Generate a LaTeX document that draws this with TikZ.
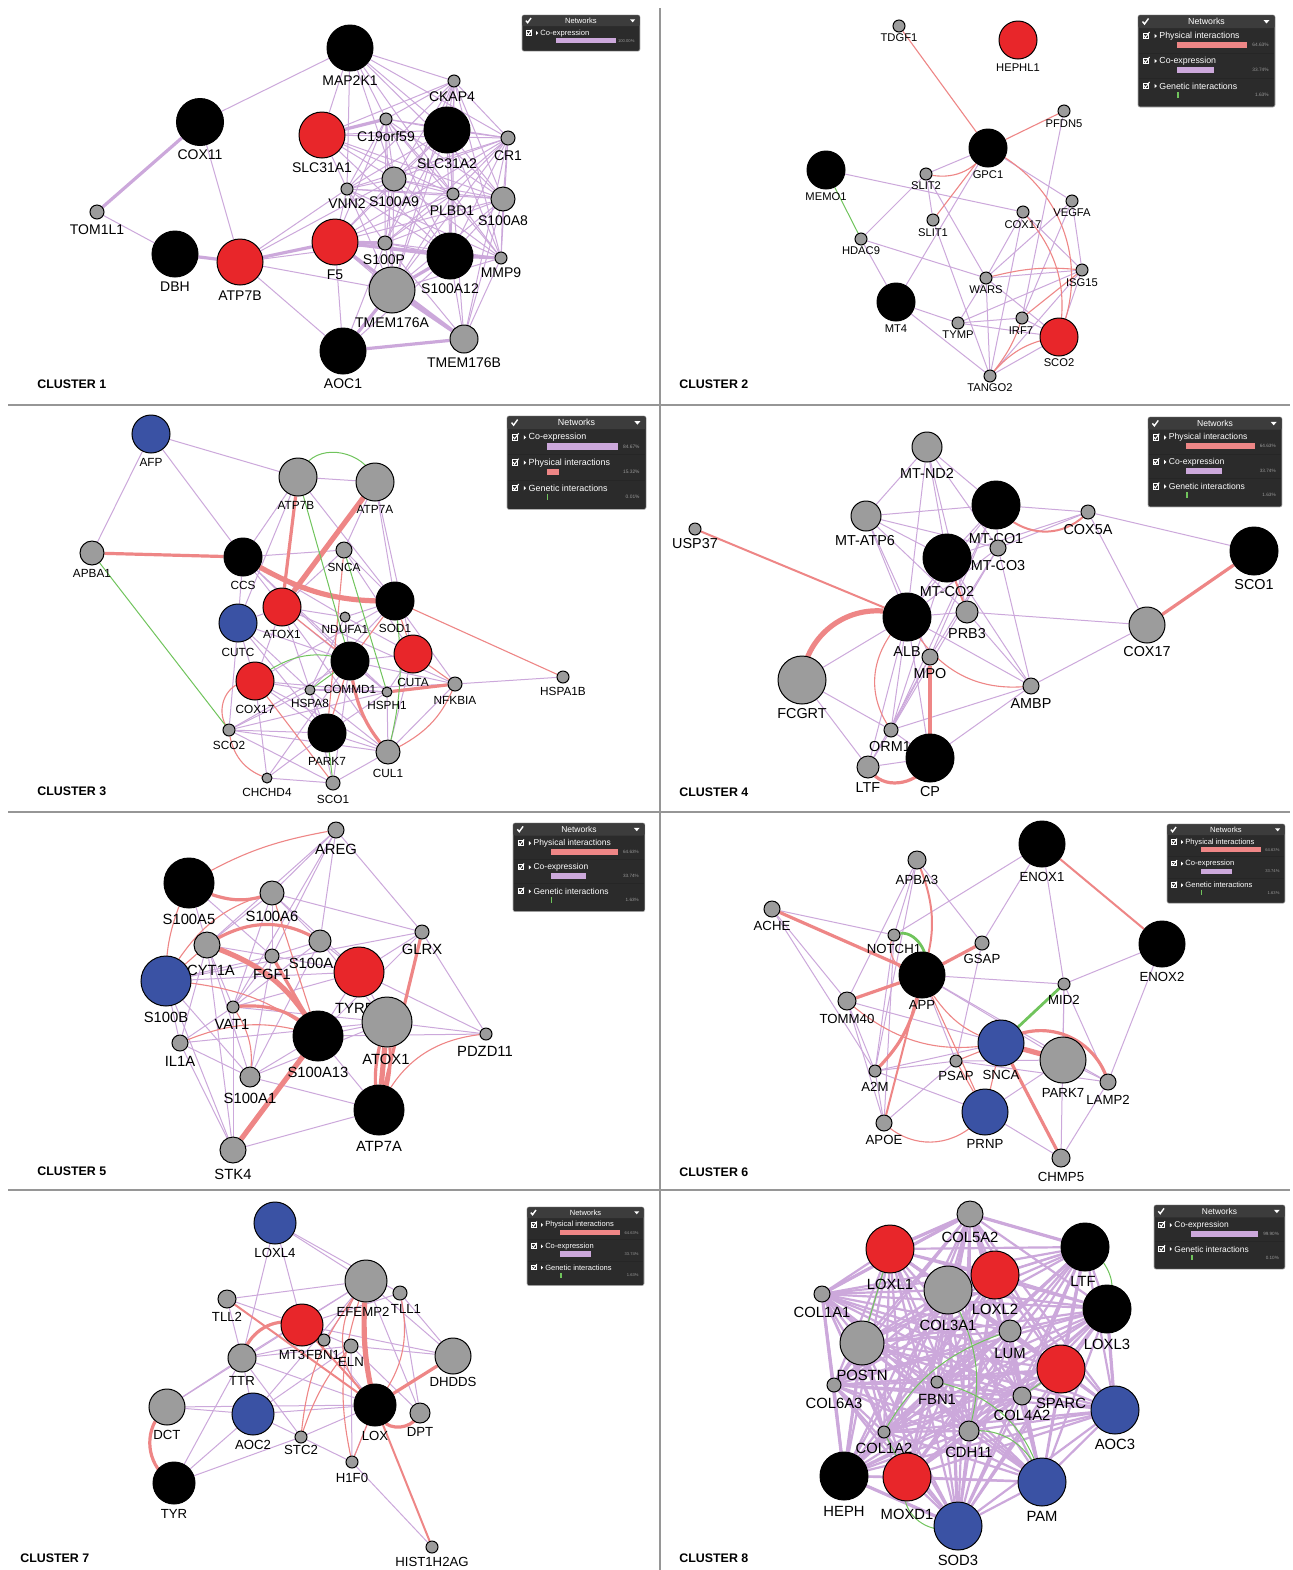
\documentclass[tikz,border=0pt]{standalone}
\usepackage{fontspec}
\setmainfont{Liberation Sans}

\definecolor{coexp}{RGB}{204,168,219}
\definecolor{phys}{RGB}{238,134,134}
\definecolor{genet}{RGB}{112,196,92}
\definecolor{nred}{RGB}{232,38,42}
\definecolor{nblue}{RGB}{58,82,164}
\definecolor{ngrey}{RGB}{156,156,156}
\definecolor{legbg}{RGB}{43,43,43}
\definecolor{leghead}{RGB}{60,60,60}
\definecolor{divcol}{RGB}{150,150,150}

\pgfdeclarelayer{back}
\pgfdeclarelayer{edges}
\pgfsetlayers{back,edges,main}

\tikzset{
  gn/.style={circle, draw=black, line width=0.5pt, inner sep=0pt},
  lab/.style={inner sep=0pt},
  labsize/.style={lab/.style={inner sep=0pt, font=\fontsize{#1}{#1}\selectfont}},
  co/.style={draw=coexp, line width=0.5pt},
  coM/.style={draw=coexp, line width=1.1pt},
  coT/.style={draw=coexp, line width=1.6pt},
  ph/.style={draw=phys, line width=0.55pt},
  phM/.style={draw=phys, line width=1pt},
  phT/.style={draw=phys, line width=1.6pt},
  phTT/.style={draw=phys, line width=2.6pt},
  ge/.style={draw=genet, line width=0.5pt},
  geT/.style={draw=genet, line width=1.4pt},
  legtxt/.style={text=white, inner sep=0pt, font=\fontsize{4.4}{5}\selectfont},
  legpct/.style={text=gray!80, inner sep=0pt, font=\fontsize{2.4}{3}\selectfont},
  clus/.style={anchor=west, inner sep=0pt, font=\fontsize{6.2}{7}\selectfont\bfseries},
}

% gene node: name, position, diameter (px), fill, label position, label
\newcommand\gene[6]{%
  \node[gn, minimum size={#3*0.5pt}, fill=#4] (#1) at (#2) {};
  \node[lab] (#1l) at (#5) {#6};}
% straight links
\newcommand\links[2]{\foreach \a/\b in {#2} \draw[#1] (\a) -- (\b);}
% every pair of a list
\newcommand\mesh[2]{%
  \foreach \a [count=\i] in {#2}{\foreach \b [count=\j] in {#2}{%
    \ifnum\j>\i \draw[#1] (\a) -- (\b);\fi}}}
% networks panel: name, top left, scale, rows, rows list
\newcommand\netbox[5]{%
  \begin{scope}[shift={(#2)}, scale=#3, transform shape]
    \fill[legbg, draw=gray!60, line width=0.3pt, rounded corners=1pt] (0,0) rectangle (137,{17+25*#4});
    \fill[leghead, rounded corners=1pt] (0.3,0.3) rectangle (136.7,13);
    \draw[white, line width=0.7pt] (4.5,6.5) -- (6.5,9) -- (10.5,3.5);
    \fill[white] (125.5,5) -- (131.5,5) -- (128.5,8.5) -- cycle;
    \node[legtxt] (#1h) at (68.5,6.5) {Networks};
    \foreach \entxt/\encol/\enwid/\enpct [count=\i from 0] in {#5}{
      \pgfmathsetmacro\yy{13+25*\i}
      \ifnum\i>0 \draw[gray!30!black, line width=0.3pt] (1,\yy) -- (136,\yy);\fi
      \draw[white, line width=0.3pt] (5,\yy+5) rectangle ++(5.5,5.5);
      \draw[white, line width=0.5pt] (6,\yy+7.5) -- (7.5,\yy+9.5) -- (11.5,\yy+4);
      \fill[white] (16.5,\yy+5.8) -- (18.8,\yy+8) -- (16.5,\yy+10.2) -- cycle;
      \node[legtxt, anchor=west] (#1t\i) at (21,\yy+8) {\entxt};
      \fill[\encol] (39,\yy+14) rectangle ++(\enwid,6);
      \node[legpct, anchor=east] (#1p\i) at (131,\yy+17) {\enpct};
    }
  \end{scope}}

\begin{document}
\begin{tikzpicture}[x=0.5pt, y=-0.5pt]
\useasboundingbox (0,0) rectangle (1293,1570);
\begin{pgfonlayer}{back}
  \fill[white] (0,0) rectangle (1293,1570);
  \draw[divcol, line width=1pt] (660,8) -- (660,1570);
  \foreach \yy in {405,812,1190} \draw[divcol, line width=1pt] (8,\yy) -- (1290,\yy);
\end{pgfonlayer}

% Cluster 1
\begin{scope}[name prefix=c1-, labsize=7]
  \gene{map}{350,48}{46}{black}{350,81}{MAP2K1}
  \gene{cox}{200,122}{47}{black}{200,155}{COX11}
  \gene{slca}{322,135}{46}{nred}{322,168}{SLC31A1}
  \gene{c19}{386,119}{12}{ngrey}{386,136}{C19orf59}
  \gene{ckap}{454,81}{12}{ngrey}{452,97}{CKAP4}
  \gene{slcb}{447,130}{46}{black}{447,164}{SLC31A2}
  \gene{cr}{508,138}{14}{ngrey}{508,156}{CR1}
  \gene{a9}{394,179}{24}{ngrey}{394,202}{S100A9}
  \gene{vnn}{347,189}{12}{ngrey}{347,204}{VNN2}
  \gene{plbd}{453,194}{12}{ngrey}{452,211}{PLBD1}
  \gene{a8}{503,199}{24}{ngrey}{503,221}{S100A8}
  \gene{tom}{97,212}{14}{ngrey}{97,230}{TOM1L1}
  \gene{dbh}{175,254}{46}{black}{175,287}{DBH}
  \gene{atp}{240,262}{46}{nred}{240,296}{ATP7B}
  \gene{f5}{335,242}{46}{nred}{335,275}{F5}
  \gene{p}{385,243}{14}{ngrey}{384,260}{S100P}
  \gene{a12}{450,256}{46}{black}{450,289}{S100A12}
  \gene{mmp}{501,258}{12}{ngrey}{501,273}{MMP9}
  \gene{tma}{392,290}{46}{ngrey}{392,323}{TMEM176A}
  \gene{aoc}{343,351}{46}{black}{343,384}{AOC1}
  \gene{tmb}{464,339}{28}{ngrey}{464,363}{TMEM176B}
  \begin{pgfonlayer}{edges}
    \mesh{co}{ckap,c19,slcb,cr,a9,vnn,plbd,a8,p,a12,mmp,tma}
    \links{co}{cox/map, cox/atp, tom/dbh, atp/vnn, atp/p, atp/tma, atp/aoc, atp/a9, f5/vnn, f5/a9, f5/plbd,
      f5/tma, f5/mmp, f5/a8, f5/cr, f5/slcb, f5/aoc, f5/c19, tmb/a12, tmb/mmp, tmb/a8, tmb/cr, tmb/p, tmb/plbd,
      aoc/p, aoc/a12, map/slca, map/ckap, map/slcb, map/cr, map/c19, map/a9, map/plbd, map/vnn, map/a8,
      slca/a9, slca/vnn, slca/plbd, slca/a8, slca/slcb, slca/cr, slca/a12, slca/ckap}
    \links{coT}{cox/tom, dbh/atp, atp/f5, f5/p, f5/a12, f5/tmb, tmb/tma, aoc/tma, aoc/tmb, slca/c19, a12/tma, a12/mmp}
  \end{pgfonlayer}
  \node[clus] (title) at (37,384) {CLUSTER 1};
\end{scope}

% Cluster 2
\begin{scope}[name prefix=c2-, labsize=5.6]
  \gene{tdgf}{899,26}{12}{ngrey}{899,38}{TDGF1}
  \gene{heph}{1018,40}{38}{nred}{1018,68}{HEPHL1}
  \gene{pfdn}{1064,111}{12}{ngrey}{1064,124}{PFDN5}
  \gene{gpc}{988,148}{38}{black}{988,175}{GPC1}
  \gene{memo}{826,170}{38}{black}{826,197}{MEMO1}
  \gene{slit2}{926,174}{12}{ngrey}{926,186}{SLIT2}
  \gene{vegfa}{1072,201}{12}{ngrey}{1072,213}{VEGFA}
  \gene{cox}{1023,212}{12}{ngrey}{1023,225}{COX17}
  \gene{slit1}{933,220}{12}{ngrey}{933,233}{SLIT1}
  \gene{hdac}{861,239}{12}{ngrey}{861,251}{HDAC9}
  \gene{wars}{986,278}{12}{ngrey}{986,290}{WARS}
  \gene{isg}{1082,270}{12}{ngrey}{1082,283}{ISG15}
  \gene{mt4}{896,302}{38}{black}{896,329}{MT4}
  \gene{tymp}{958,323}{12}{ngrey}{958,335}{TYMP}
  \gene{irf}{1022,318}{12}{ngrey}{1021,331}{IRF7}
  \gene{sco}{1059,337}{38}{nred}{1059,363}{SCO2}
  \gene{tango}{990,376}{12}{ngrey}{990,388}{TANGO2}
  \begin{pgfonlayer}{edges}
    \links{co}{gpc/slit2, gpc/mt4, gpc/vegfa, memo/cox, slit2/hdac, slit2/slit1, slit2/wars, slit1/tango,
      hdac/mt4, hdac/wars, pfdn/irf, vegfa/isg, vegfa/wars, vegfa/irf, cox/wars, cox/isg, cox/tango,
      wars/isg, wars/tymp, wars/sco, wars/tango, isg/tymp, isg/sco, isg/tango, mt4/tymp, mt4/tango,
      tymp/irf, tymp/sco, irf/sco, sco/tango}
    \links{ph}{tdgf/gpc, gpc/pfdn, gpc/slit1, isg/irf}
    \draw[ph, bend right=35] (slit2) to (gpc);
    \draw[ph, bend left=40] (gpc) to (sco);
    \draw[ph, bend left=25] (cox) to (sco);
    \draw[ph, bend left=10] (wars) to (isg);
    \draw[ph, bend left=20] (tango) to (sco);
    \draw[ph, bend right=10] (tango) to (irf);
    \links{ge}{memo/hdac}
  \end{pgfonlayer}
  \node[clus] (title) at (679,384) {CLUSTER 2};
\end{scope}

% Cluster 3
\begin{scope}[name prefix=c3-, labsize=5.9]
  \gene{afp}{151,434}{38}{nblue}{151,462}{AFP}
  \gene{atpb}{298,477}{38}{ngrey}{296,505}{ATP7B}
  \gene{atpa}{375,482}{38}{ngrey}{375,509}{ATP7A}
  \gene{apba}{92,553}{24}{ngrey}{92,573}{APBA1}
  \gene{ccs}{243,557}{38}{black}{243,585}{CCS}
  \gene{snca}{344,550}{16}{ngrey}{344,567}{SNCA}
  \gene{atox}{282,607}{38}{nred}{282,634}{ATOX1}
  \gene{sod}{395,601}{38}{black}{395,628}{SOD1}
  \gene{ndufa}{345,617}{10}{ngrey}{345,629}{NDUFA1}
  \gene{cutc}{238,623}{38}{nblue}{238,652}{CUTC}
  \gene{commd}{350,661}{38}{black}{350,689}{COMMD1}
  \gene{cuta}{413,654}{38}{nred}{413,682}{CUTA}
  \gene{cox}{255,681}{38}{nred}{255,709}{COX17}
  \gene{hspa8}{310,690}{10}{ngrey}{310,703}{HSPA8}
  \gene{hsph}{387,692}{10}{ngrey}{387,705}{HSPH1}
  \gene{nfkbia}{455,684}{14}{ngrey}{455,700}{NFKBIA}
  \gene{hspa1b}{563,677}{12}{ngrey}{563,691}{HSPA1B}
  \gene{sco2}{229,730}{12}{ngrey}{229,745}{SCO2}
  \gene{park}{327,733}{38}{black}{327,761}{PARK7}
  \gene{cul}{388,752}{24}{ngrey}{388,773}{CUL1}
  \gene{chchd}{267,778}{10}{ngrey}{267,792}{CHCHD4}
  \gene{sco1}{333,783}{14}{ngrey}{333,799}{SCO1}
  \begin{pgfonlayer}{edges}
    \links{co}{afp/atpb, afp/apba, afp/ccs, atpb/atpa, atpb/ccs, atpb/sod, atpb/cutc, atpa/snca, atpa/sod, atpa/cuta,
      ccs/snca, ccs/cutc, ccs/ndufa, ccs/commd, ccs/hsph, ccs/atox, snca/sod, snca/atox, snca/cuta,
      atox/cutc, atox/ndufa, atox/hsph, atox/hspa8, atox/nfkbia, atox/cul, atox/cox, sod/ndufa, sod/nfkbia,
      sod/hspa8, sod/cox, ndufa/commd, ndufa/cuta, ndufa/hspa8, cutc/cox, cutc/hspa8, cutc/park, cutc/sco2,
      cutc/commd, commd/cuta, commd/hsph, commd/nfkbia, commd/sco2, commd/chchd, cuta/hsph, cuta/cul,
      cox/hspa8, cox/park, cox/chchd, cox/cul, cox/hsph, hspa8/park, hspa8/sco2, hspa8/hsph, hsph/park,
      hsph/cul, nfkbia/cul, nfkbia/hspa1b, nfkbia/hspa8, sco2/park, sco2/sco1, sco2/cul, sco2/hsph,
      park/cul, park/chchd, chchd/sco1, sco1/cul, sco1/hspa8, sco1/commd, cul/hspa8}
    \links{ph}{sod/hspa1b, snca/park, sod/cuta, cuta/nfkbia, cox/sco1, atox/commd, commd/park, sod/commd}
    \links{phT}{apba/ccs, atpb/atox, hsph/nfkbia}
    \links{phTT}{atpa/atox}
    \draw[phTT, bend right=15] (ccs) to (sod);
    \draw[phT, bend right=15] (commd) to (cul);
    \draw[ph, bend right=50] (cox) to (sco2);
    \draw[ph, bend right=30] (sco2) to (chchd);
    \draw[ph, bend right=20] (cul) to (nfkbia);
    \links{ge}{apba/sco2, atpb/commd, snca/hsph, park/sco1, hspa8/commd}
    \draw[ge, bend left=60] (atpb) to (atpa);
    \draw[ge, bend left=10] (sod) to (cul);
    \draw[ge, bend left=25] (cox) to (commd);
  \end{pgfonlayer}
  \node[clus] (title) at (37,791) {CLUSTER 3};
\end{scope}

% Cluster 4
\begin{scope}[name prefix=c4-, labsize=7.2]
  \gene{nd2}{927,447}{30}{ngrey}{927,473}{MT-ND2}
  \gene{atp6}{866,516}{30}{ngrey}{865,541}{MT-ATP6}
  \gene{usp}{695,529}{12}{ngrey}{695,544}{USP37}
  \gene{co1}{996,505}{48}{black}{996,539}{MT-CO1}
  \gene{cox5a}{1088,512}{14}{ngrey}{1088,530}{COX5A}
  \gene{co3}{998,548}{16}{ngrey}{998,566}{MT-CO3}
  \gene{co2}{947,558}{48}{black}{947,592}{MT-CO2}
  \gene{sco1}{1254,551}{48}{black}{1254,585}{SCO1}
  \gene{alb}{907,617}{48}{black}{907,652}{ALB}
  \gene{prb3}{967,612}{22}{ngrey}{967,634}{PRB3}
  \gene{cox17}{1147,625}{36}{ngrey}{1147,652}{COX17}
  \gene{mpo}{930,657}{16}{ngrey}{930,674}{MPO}
  \gene{fcgrt}{802,680}{48}{ngrey}{802,714}{FCGRT}
  \gene{ambp}{1031,686}{16}{ngrey}{1031,704}{AMBP}
  \gene{orm1}{891,730}{14}{ngrey}{890,747}{ORM1}
  \gene{cp}{930,758}{48}{black}{930,792}{CP}
  \gene{ltf}{868,767}{22}{ngrey}{868,788}{LTF}
  \begin{pgfonlayer}{edges}
    \links{co}{nd2/atp6, nd2/co1, nd2/co2, nd2/co3, nd2/alb, nd2/prb3, atp6/co1, atp6/co2, atp6/co3, atp6/alb,
      atp6/prb3, atp6/mpo, co1/cox5a, co1/co3, co1/alb, co1/mpo, co1/orm1, co1/co2, cox5a/sco1, cox5a/cox17,
      cox5a/co2, cox5a/co3, co3/ambp, co3/mpo, co3/orm1, co3/alb, co2/ambp, co2/alb, co2/orm1, prb3/cox17,
      prb3/ambp, alb/prb3, alb/fcgrt, alb/orm1, alb/ltf, alb/cp, alb/ambp, fcgrt/orm1, fcgrt/ltf,
      cox17/ambp, ambp/orm1, ambp/cp, orm1/mpo, orm1/cp, ltf/cp, ltf/orm1, mpo/ltf}
    \links{phM}{usp/alb, co2/prb3}
    \links{phT}{sco1/cox17, mpo/cp}
    \draw[phTT, bend right=45] (alb) to (fcgrt);
    \draw[phM, bend right=40] (co1) to (cox5a);
    \draw[ph, bend right=30] (alb) to (ambp);
    \draw[ph, bend right=35] (alb) to (orm1);
    \draw[phT, bend right=60] (ltf) to (cp);
  \end{pgfonlayer}
  \node[clus] (title) at (679,792) {CLUSTER 4};
\end{scope}

% Cluster 5
\begin{scope}[name prefix=c5-, labsize=7.4]
  \gene{areg}{336,830}{16}{ngrey}{336,849}{AREG}
  \gene{a5}{189,883}{50}{black}{189,919}{S100A5}
  \gene{a6}{272,893}{24}{ngrey}{272,916}{S100A6}
  \gene{glrx}{422,932}{14}{ngrey}{422,949}{GLRX}
  \gene{cyt}{207,945}{26}{ngrey}{211,970}{CYT1A}
  \gene{a4}{320,941}{22}{ngrey}{311,963}{S100A}
  \gene{fgf}{272,956}{14}{ngrey}{272,974}{FGF1}
  \gene{tyrp}{359,972}{50}{nred}{359,1008}{TYRP1}
  \gene{b}{166,981}{50}{nblue}{166,1017}{S100B}
  \gene{vat}{233,1007}{12}{ngrey}{232,1024}{VAT1}
  \gene{atox}{387,1022}{50}{ngrey}{386,1059}{ATOX1}
  \gene{a13}{318,1036}{50}{black}{318,1072}{S100A13}
  \gene{il1a}{180,1043}{16}{ngrey}{180,1061}{IL1A}
  \gene{pdzd}{486,1034}{12}{ngrey}{485,1051}{PDZD11}
  \gene{a1}{250,1077}{20}{ngrey}{250,1098}{S100A1}
  \gene{atp7a}{379,1110}{50}{black}{379,1146}{ATP7A}
  \gene{stk}{233,1150}{26}{ngrey}{233,1174}{STK4}
  \begin{pgfonlayer}{edges}
    \links{co}{areg/a6, areg/a4, areg/fgf, areg/glrx, areg/cyt, areg/vat, a5/cyt, a5/fgf, a6/glrx, a6/cyt,
      a6/a4, a6/fgf, a6/tyrp, a6/vat, glrx/a13, glrx/tyrp, glrx/pdzd, glrx/b, cyt/fgf, cyt/vat, cyt/a1,
      cyt/stk, cyt/il1a, a4/fgf, a4/tyrp, a4/a1, a4/vat, a4/atox, fgf/tyrp, fgf/vat, fgf/a1, fgf/b,
      tyrp/a13, tyrp/atox, tyrp/b, tyrp/pdzd, tyrp/vat, b/il1a, b/a1, b/stk, vat/il1a, vat/atox,
      vat/stk, atox/a13, atox/pdzd, atox/il1a, a13/a1, a13/pdzd, a13/atp7a, il1a/a1, il1a/stk,
      a1/atox, stk/atp7a, atp7a/a1}
    \links{ph}{a6/a13, b/cyt}
    \links{phT}{glrx/atp7a, fgf/a13}
    \links{phTT}{stk/a13, atox/atp7a}
    \draw[ph, bend right=10] (areg) to (a5);
    \draw[phT, bend right=20] (a5) to (a6);
    \draw[ph, bend left=20] (b) to (a6);
    \draw[ph, bend right=10] (a5) to (b);
    \draw[phT, bend left=30] (cyt) to (a4);
    \draw[phTT, bend left=20] (cyt) to (a13);
    \draw[ph, bend left=15] (b) to (a13);
    \draw[phT, bend left=25] (vat) to (a13);
    \draw[ph, bend left=20] (vat) to (a1);
    \draw[ph, bend left=20] (il1a) to (a13);
    \draw[phT, bend left=12] (atox) to (atp7a);
    \draw[phT, bend right=12] (atox) to (atp7a);
    \draw[ph, bend right=30] (pdzd) to (atp7a);
  \end{pgfonlayer}
  \node[clus] (title) at (37,1171) {CLUSTER 5};
\end{scope}

% Cluster 6
\begin{scope}[name prefix=c6-, labsize=6.6]
  \gene{enox1}{1042,844}{46}{black}{1042,877}{ENOX1}
  \gene{apba3}{917,860}{18}{ngrey}{917,880}{APBA3}
  \gene{ache}{772,909}{16}{ngrey}{772,926}{ACHE}
  \gene{notch}{894,935}{12}{ngrey}{894,949}{NOTCH1}
  \gene{gsap}{982,943}{14}{ngrey}{982,959}{GSAP}
  \gene{enox2}{1162,944}{46}{black}{1162,977}{ENOX2}
  \gene{app}{922,975}{46}{black}{922,1005}{APP}
  \gene{mid2}{1064,984}{12}{ngrey}{1064,1000}{MID2}
  \gene{tomm}{847,1001}{18}{ngrey}{847,1019}{TOMM40}
  \gene{snca}{1001,1043}{46}{nblue}{1001,1075}{SNCA}
  \gene{park}{1063,1060}{46}{ngrey}{1063,1093}{PARK7}
  \gene{psap}{956,1061}{12}{ngrey}{956,1076}{PSAP}
  \gene{a2m}{875,1071}{12}{ngrey}{875,1087}{A2M}
  \gene{lamp}{1108,1082}{16}{ngrey}{1108,1100}{LAMP2}
  \gene{prnp}{985,1112}{46}{nblue}{985,1144}{PRNP}
  \gene{apoe}{884,1123}{16}{ngrey}{884,1140}{APOE}
  \gene{chmp}{1061,1158}{18}{ngrey}{1061,1177}{CHMP5}
  \begin{pgfonlayer}{edges}
    \links{co}{enox1/gsap, enox1/notch, enox1/mid2, enox2/mid2, enox2/lamp, ache/notch, ache/a2m, ache/tomm,
      apba3/gsap, apba3/a2m, apba3/tomm, apba3/notch, gsap/psap, app/mid2, app/psap, app/park, app/lamp,
      tomm/park, tomm/a2m, tomm/apoe, mid2/park, mid2/chmp, mid2/lamp, snca/a2m, park/lamp, park/prnp,
      park/psap, lamp/chmp, lamp/psap, prnp/a2m, prnp/chmp, a2m/apoe, a2m/psap, apoe/psap, notch/a2m, notch/apoe}
    \links{ph}{snca/prnp, snca/psap, psap/prnp, app/prnp}
    \links{phM}{enox1/enox2, app/apoe}
    \links{phT}{ache/app, gsap/app, app/tomm, snca/chmp}
    \links{phTT}{snca/park}
    \draw[phM, bend left=20] (apba3) to (app);
    \draw[phT, bend left=15] (app) to (a2m);
    \draw[ph, bend right=20] (app) to (snca);
    \draw[ph, bend right=60] (notch) to (app);
    \draw[ph, bend right=25] (tomm) to (snca);
    \draw[phT, bend left=45] (snca) to (lamp);
    \draw[ph, bend left=40] (prnp) to (apoe);
    \draw[geT, bend left=70] (notch) to (app);
    \links{geT}{mid2/snca}
  \end{pgfonlayer}
  \node[clus] (title) at (679,1172) {CLUSTER 6};
\end{scope}

% Cluster 7
\begin{scope}[name prefix=c7-, labsize=6.6]
  \gene{loxl4}{275,1223}{42}{nblue}{275,1253}{LOXL4}
  \gene{efemp}{366,1281}{42}{ngrey}{363,1312}{EFEMP2}
  \gene{tll1}{400,1293}{14}{ngrey}{406,1309}{TLL1}
  \gene{tll2}{227,1299}{18}{ngrey}{227,1317}{TLL2}
  \gene{mt3}{302,1325}{42}{nred}{292,1355}{MT3}
  \gene{fbn}{324,1340}{12}{ngrey}{323,1355}{FBN1}
  \gene{eln}{351,1346}{14}{ngrey}{351,1362}{ELN}
  \gene{ttr}{242,1358}{28}{ngrey}{242,1381}{TTR}
  \gene{dhdds}{453,1356}{36}{ngrey}{453,1382}{DHDDS}
  \gene{dct}{167,1407}{36}{ngrey}{167,1435}{DCT}
  \gene{aoc2}{253,1414}{42}{nblue}{253,1445}{AOC2}
  \gene{lox}{375,1405}{42}{black}{375,1436}{LOX}
  \gene{dpt}{420,1413}{20}{ngrey}{420,1432}{DPT}
  \gene{stc}{301,1437}{12}{ngrey}{301,1450}{STC2}
  \gene{h1f0}{352,1462}{12}{ngrey}{352,1478}{H1F0}
  \gene{tyr}{174,1483}{42}{black}{174,1514}{TYR}
  \gene{hist}{432,1547}{12}{ngrey}{432,1562}{HIST1H2AG}
  \begin{pgfonlayer}{edges}
    \links{co}{loxl4/mt3, loxl4/ttr, loxl4/efemp, loxl4/tll1, tll2/efemp, tll2/ttr, tll2/mt3, ttr/dct, ttr/aoc2,
      ttr/tyr, ttr/eln, ttr/efemp, ttr/stc, ttr/lox, dct/aoc2, dct/lox, aoc2/stc, aoc2/tyr, aoc2/efemp,
      aoc2/lox, aoc2/eln, tyr/stc, stc/h1f0, stc/lox, h1f0/hist, h1f0/lox, h1f0/eln, eln/dpt, eln/dhdds,
      efemp/dhdds, tll1/dpt, tll1/dhdds, tll1/mt3, fbn/lox, fbn/efemp, fbn/ttr, mt3/eln, mt3/dhdds,
      efemp/dpt, dct/efemp}
    \links{ph}{lox/h1f0}
    \links{phM}{tll2/lox, lox/hist, mt3/lox}
    \links{phT}{dhdds/lox}
    \draw[phT, bend right=45] (dct) to (tyr);
    \draw[phT, bend left=40] (ttr) to (mt3);
    \draw[phTT, bend right=8] (efemp) to (lox);
    \draw[ph, bend right=40] (efemp) to (lox);
    \draw[ph, bend right=15] (efemp) to (stc);
    \draw[ph, bend left=25] (tll1) to (lox);
    \draw[phT, bend right=50] (lox) to (dpt);
    \draw[ph, bend left=10] (stc) to (eln);
    \draw[ph, bend right=15] (efemp) to (h1f0);
  \end{pgfonlayer}
  \node[clus] (title) at (20,1558) {CLUSTER 7};
\end{scope}

% Cluster 8
\begin{scope}[name prefix=c8-, labsize=7.4]
  \gene{col5a2}{970,1214}{26}{ngrey}{970,1237}{COL5A2}
  \gene{loxl1}{890,1249}{48}{nred}{890,1284}{LOXL1}
  \gene{ltf}{1085,1247}{48}{black}{1083,1281}{LTF}
  \gene{col3a1}{948,1290}{48}{ngrey}{948,1325}{COL3A1}
  \gene{loxl2}{995,1275}{48}{nred}{995,1309}{LOXL2}
  \gene{col1a1}{822,1294}{16}{ngrey}{822,1312}{COL1A1}
  \gene{loxl3}{1107,1309}{48}{black}{1107,1344}{LOXL3}
  \gene{lum}{1010,1331}{22}{ngrey}{1010,1353}{LUM}
  \gene{postn}{862,1343}{44}{ngrey}{862,1375}{POSTN}
  \gene{sparc}{1061,1369}{48}{nred}{1061,1403}{SPARC}
  \gene{fbn}{937,1382}{12}{ngrey}{937,1399}{FBN1}
  \gene{col6a3}{834,1385}{14}{ngrey}{834,1403}{COL6A3}
  \gene{col4a2}{1022,1396}{18}{ngrey}{1022,1415}{COL4A2}
  \gene{aoc3}{1115,1410}{48}{nblue}{1115,1444}{AOC3}
  \gene{col1a2}{884,1432}{12}{ngrey}{884,1448}{COL1A2}
  \gene{cdh11}{969,1431}{20}{ngrey}{969,1452}{CDH11}
  \gene{heph}{844,1476}{48}{black}{844,1511}{HEPH}
  \gene{moxd}{907,1477}{48}{nred}{907,1514}{MOXD1}
  \gene{pam}{1042,1482}{48}{nblue}{1042,1516}{PAM}
  \gene{sod3}{958,1526}{48}{nblue}{958,1560}{SOD3}
  \begin{pgfonlayer}{edges}
    \mesh{coM}{col5a2,loxl1,ltf,loxl2,col3a1,col1a1,loxl3,lum,postn,sparc,fbn,col6a3,col4a2,aoc3,col1a2,cdh11,heph,moxd,pam,sod3}
    \links{coT}{loxl1/col5a2, col5a2/ltf, col1a1/heph, col1a1/col5a2, loxl1/col3a1, postn/heph, col3a1/sod3,
      loxl3/aoc3, ltf/sparc, heph/sod3}
    \links{ge}{loxl1/postn, col1a2/moxd, sparc/col4a2}
    \draw[ge, bend left=20] (col3a1) to (cdh11);
    \draw[ge, bend right=50] (moxd) to (sod3);
    \draw[ge, bend right=30] (pam) to (cdh11);
    \draw[ge, bend left=30] (fbn) to (pam);
    \draw[ge, bend right=20] (lum) to (col1a2);
    \draw[ge, bend left=30] (ltf) to (loxl3);
  \end{pgfonlayer}
  \node[clus] (title) at (679,1558) {CLUSTER 8};
\end{scope}

% Networks panels
\netbox{lg1}{522,15}{0.861}{1}{Co-expression/coexp/70/100.00\%}
\netbox{lg2}{1138,15}{1}{3}{Physical interactions/phys/70/64.63\%, Co-expression/coexp/36.5/33.74\%, Genetic interactions/genet/2/1.63\%}
\netbox{lg3}{507,416}{1.015}{3}{Co-expression/coexp/70/84.67\%, Physical interactions/phys/12.7/15.32\%, Genetic interactions/genet/1.5/0.01\%}
\netbox{lg4}{1148,417}{0.978}{3}{Physical interactions/phys/70/64.63\%, Co-expression/coexp/36.5/33.74\%, Genetic interactions/genet/2/1.63\%}
\netbox{lg5}{513,823}{0.963}{3}{Physical interactions/phys/70/64.63\%, Co-expression/coexp/36.5/33.74\%, Genetic interactions/genet/2/1.63\%}
\netbox{lg6}{1167,824}{0.861}{3}{Physical interactions/phys/70/64.63\%, Co-expression/coexp/36.5/33.74\%, Genetic interactions/genet/2/1.63\%}
\netbox{lg7}{527,1207}{0.854}{3}{Physical interactions/phys/70/64.63\%, Co-expression/coexp/36.5/33.74\%, Genetic interactions/genet/2/1.63\%}
\netbox{lg8}{1154,1205}{0.956}{2}{Co-expression/coexp/70/99.90\%, Genetic interactions/genet/1.5/0.10\%}

\end{tikzpicture}
\end{document}
